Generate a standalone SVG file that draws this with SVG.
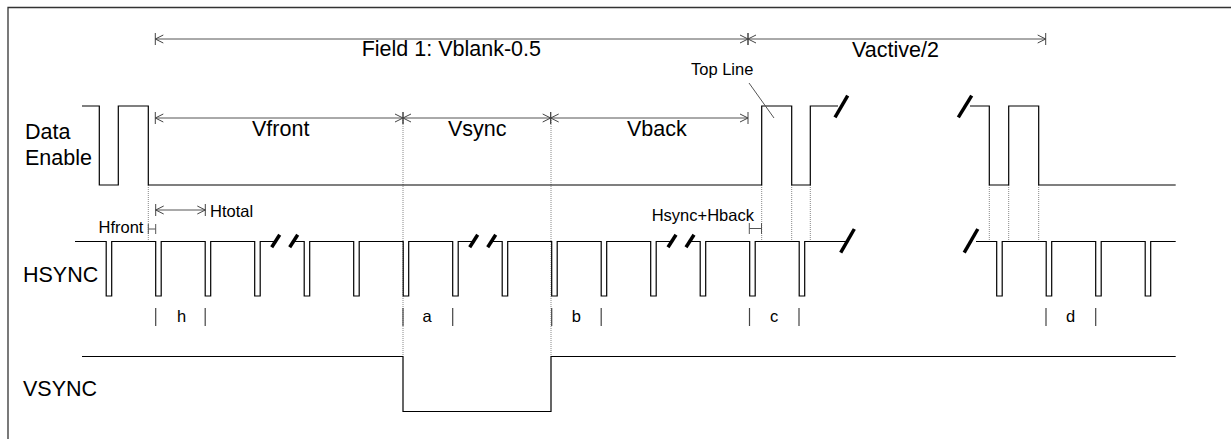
<svg xmlns="http://www.w3.org/2000/svg" width="1231" height="439" viewBox="0 0 1231 439">
<style>
  text { font-family: "Liberation Sans", Arial, sans-serif; fill: #000; }
  .big { font-size: 21.5px; }
  .sm { font-size: 16.5px; }
  .wave { fill: none; stroke: #000; stroke-width: 1.2; }
  .dim { fill: none; stroke: #555; stroke-width: 1; }
  .dot { fill: none; stroke: #888; stroke-width: 1; stroke-dasharray: 1 1; }
  .brk { stroke: #000; stroke-width: 3.5; }
  .tick { stroke: #444; stroke-width: 1.2; }
  .frame { fill: none; stroke: #333; stroke-width: 1.3; }
</style>
<defs>
  <marker id="arrS" markerUnits="userSpaceOnUse" markerWidth="20" markerHeight="20" refX="0" refY="0" orient="auto" overflow="visible">
    <path d="M0,-6 V6 M8,-4 L0,0 L8,4" fill="none" stroke="#444" stroke-width="1"/>
  </marker>
  <marker id="arrE" markerUnits="userSpaceOnUse" markerWidth="20" markerHeight="20" refX="0" refY="0" orient="auto" overflow="visible">
    <path d="M0,-6 V6 M-8,-4 L0,0 L-8,4" fill="none" stroke="#444" stroke-width="1"/>
  </marker>
</defs>

<rect width="1231" height="439" fill="#fff"/>
<path class="frame" d="M8,460 V7.5 H1240"/>

<g id="labels">
  <text class="big" x="25" y="139">Data</text>
  <text class="big" x="25" y="165">Enable</text>
  <text class="big" x="23" y="282">HSYNC</text>
  <text class="big" x="23" y="396">VSYNC</text>
</g>

<g id="guides">
  <line class="dot" x1="148.3" y1="185" x2="148.3" y2="241"/>
  <line class="dot" x1="403" y1="118" x2="403" y2="356"/>
  <line class="dot" x1="551" y1="118" x2="551" y2="356"/>
  <line class="dot" x1="761.7" y1="185" x2="761.7" y2="241"/>
  <line class="dot" x1="791.7" y1="185" x2="791.7" y2="241"/>
  <line class="dot" x1="810.3" y1="185" x2="810.3" y2="241"/>
  <line class="dot" x1="989.3" y1="185" x2="989.3" y2="241"/>
  <line class="dot" x1="1008.7" y1="185" x2="1008.7" y2="241"/>
  <line class="dot" x1="1038.7" y1="185" x2="1038.7" y2="241"/>
</g>

<g id="data-enable">
  <path class="wave" d="M82,106 H99.3 V185 H118.3 V106 H148.3 V185 H761.7 V106 H791.7 V185 H810.3 V106 H838"/>
  <path class="wave" d="M970,106 H989.3 V185 H1008.7 V106 H1038.7 V185 H1175.7"/>
  <line class="brk" x1="835" y1="117.3" x2="847.7" y2="95.7"/>
  <line class="brk" x1="958.3" y1="117.3" x2="971.7" y2="95.7"/>
</g>

<g id="hsync">
  <path class="wave" d="M75,241.5 H106.2 V296 H111.7 V241.5 H155.7 V296 H161.2 V241.5 H205.2 V296 H210.7 V241.5 H254.7 V296 H260.2 V241.5 H275.7"/>
  <path class="wave" d="M293.7,241.5 H304.2 V296 H309.7 V241.5 H353.7 V296 H359.2 V241.5 H403.2 V296 H408.7 V241.5 H452.7 V296 H458.2 V241.5 H473.7"/>
  <path class="wave" d="M491.7,241.5 H502.2 V296 H507.7 V241.5 H551.7 V296 H557.2 V241.5 H601.2 V296 H606.7 V241.5 H650.7 V296 H656.2 V241.5 H672"/>
  <path class="wave" d="M690,241.5 H700.2 V296 H705.7 V241.5 H749.7 V296 H755.2 V241.5 H799.2 V296 H804.7 V241.5 H846.5"/>
  <path class="wave" d="M976,241.5 H996.7 V296 H1002.2 V241.5 H1046.2 V296 H1051.7 V241.5 H1095.7 V296 H1101.2 V241.5 H1145.2 V296 H1150.7 V241.5 H1175.7"/>
  <line class="brk" x1="271.7" y1="247.3" x2="279.7" y2="234.7"/>
  <line class="brk" x1="289.7" y1="247.3" x2="297.7" y2="234.7"/>
  <line class="brk" x1="469.7" y1="247.3" x2="477.7" y2="234.7"/>
  <line class="brk" x1="487.7" y1="247.3" x2="495.7" y2="234.7"/>
  <line class="brk" x1="668" y1="247.3" x2="676" y2="234.7"/>
  <line class="brk" x1="686" y1="247.3" x2="694" y2="234.7"/>
  <line class="brk" x1="840.7" y1="252.7" x2="854.3" y2="229"/>
  <line class="brk" x1="964.2" y1="252.7" x2="977.8" y2="229"/>
</g>

<g id="vsync">
  <path class="wave" d="M82,356.5 H403 V411.5 H551 V356.5 H1175.7"/>
</g>

<g id="line-markers">
  <line class="tick" x1="155.7" y1="308" x2="155.7" y2="326" stroke="#777"/>
  <line class="tick" x1="205.2" y1="308" x2="205.2" y2="326"/>
  <text class="sm" x="177" y="322">h</text>
  <line class="tick" x1="403" y1="308" x2="403" y2="326" stroke="#777"/>
  <line class="tick" x1="452.7" y1="308" x2="452.7" y2="326"/>
  <text class="sm" x="422.5" y="322">a</text>
  <line class="tick" x1="551.7" y1="308" x2="551.7" y2="326" stroke="#777"/>
  <line class="tick" x1="601.2" y1="308" x2="601.2" y2="326"/>
  <text class="sm" x="571.7" y="322">b</text>
  <line class="tick" x1="749.5" y1="308" x2="749.5" y2="326" stroke="#777"/>
  <line class="tick" x1="799" y1="308" x2="799" y2="326"/>
  <text class="sm" x="770" y="322">c</text>
  <line class="tick" x1="1046" y1="308" x2="1046" y2="326" stroke="#777"/>
  <line class="tick" x1="1095.7" y1="308" x2="1095.7" y2="326"/>
  <text class="sm" x="1066" y="322">d</text>
</g>

<g id="connectors">
  <line class="dim" x1="155.3" y1="39" x2="748" y2="39" marker-start="url(#arrS)" marker-end="url(#arrE)"/>
  <line class="dim" x1="748" y1="39" x2="1045.7" y2="39" marker-start="url(#arrS)" marker-end="url(#arrE)"/>
  <line class="dim" x1="155.3" y1="118" x2="403" y2="118" marker-start="url(#arrS)" marker-end="url(#arrE)"/>
  <line class="dim" x1="403" y1="118" x2="550.7" y2="118" marker-start="url(#arrS)" marker-end="url(#arrE)"/>
  <line class="dim" x1="550.7" y1="118" x2="748" y2="118" marker-start="url(#arrS)" marker-end="url(#arrE)"/>
  <line class="dim" x1="155.7" y1="210" x2="205.3" y2="210" marker-start="url(#arrS)" marker-end="url(#arrE)"/>
  <path class="dim" d="M148.3,224 V234 M148.3,229 H155.7 M155.7,224 V234"/>
  <path class="dim" d="M749.3,223 V234 M749.3,228.5 H761.5 M761.5,223 V234"/>
  <line class="dim" x1="749" y1="83" x2="774" y2="118"/>
</g>

<g id="dim-labels">
  <text class="big" x="361.7" y="56">Field 1: Vblank-0.5</text>
  <text class="big" x="852" y="57">Vactive/2</text>
  <text class="big" x="252" y="136">Vfront</text>
  <text class="big" x="448" y="136">Vsync</text>
  <text class="big" x="627" y="136">Vback</text>
  <text class="sm" x="691" y="75">Top Line</text>
  <text class="sm" x="210" y="217">Htotal</text>
  <text class="sm" x="98.5" y="232.5">Hfront</text>
  <text class="sm" x="651.7" y="221">Hsync+Hback</text>
</g>
</svg>
